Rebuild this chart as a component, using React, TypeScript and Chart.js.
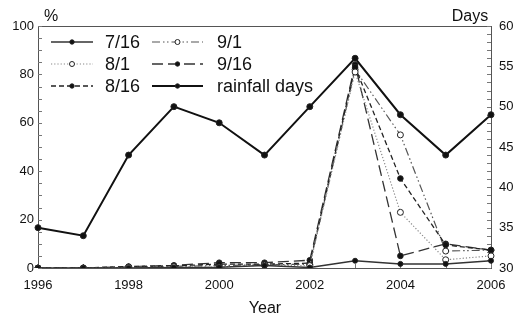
import React, { useEffect, useRef } from 'react';
import { Chart, registerables } from 'chart.js';
Chart.register(...registerables);

const YEARS = ['1996', '1997', '1998', '1999', '2000', '2001', '2002', '2003', '2004', '2005', '2006'];
const P_0716 = [0, 0, 0, 0.2, 0.3, 1.0, 0.2, 3.0, 1.7, 1.7, 3.0];
const P_0801 = [0, 0, 0.2, 0.5, 0.4, 1.2, 1.0, 81, 23, 3.4, 5.0];
const P_0816 = [0, 0, 0.6, 0.9, 1.6, 1.6, 2.0, 83, 37, 9.5, 7.4];
const P_0901 = [0, 0, 0.3, 0.7, 1.0, 1.4, 1.5, 82, 55, 7.0, 7.4];
const P_0916 = [0, 0, 0.5, 1.1, 2.2, 2.2, 3.2, 84, 5.0, 10, 7.4];
const RAINFALL_DAYS = [35, 34, 44, 50, 48, 44, 50, 56, 49, 44, 49];

const LEFT_TICKS = [0, 20, 40, 60, 80, 100];
const RIGHT_TICKS = [30, 35, 40, 45, 50, 55, 60];

const FONT = "'Liberation Sans', Arial, sans-serif";

type Style = { label: string; data: number[]; color: string; width: number; dash: number[]; open: boolean; r: number; axis: string };

const SERIES: Style[] = [
  { label: '7/16', data: P_0716, color: '#333', width: 1.5, dash: [], open: false, r: 2.5, axis: 'y' },
  { label: '8/1', data: P_0801, color: '#888', width: 1.2, dash: [1.2, 2], open: true, r: 3, axis: 'y' },
  { label: '8/16', data: P_0816, color: '#222', width: 1.3, dash: [5, 3], open: false, r: 2.8, axis: 'y' },
  { label: '9/1', data: P_0901, color: '#555', width: 1.2, dash: [8, 3, 1.5, 2.5, 1.5, 3], open: true, r: 3, axis: 'y' },
  { label: '9/16', data: P_0916, color: '#333', width: 1.3, dash: [11, 5], open: false, r: 2.8, axis: 'y' },
  { label: 'rainfall days', data: RAINFALL_DAYS, color: '#111', width: 2, dash: [], open: false, r: 3, axis: 'y1' },
];

const LEGEND_POS = [
  { x1: 51, x2: 93, y: 42, tx: 105 },
  { x1: 51, x2: 93, y: 64, tx: 105 },
  { x1: 51, x2: 93, y: 86, tx: 105 },
  { x1: 152, x2: 203, y: 42, tx: 217 },
  { x1: 152, x2: 203, y: 64, tx: 217 },
  { x1: 152, x2: 203, y: 86, tx: 217 },
];

const decor = {
  id: 'decor',
  beforeDatasetsDraw(chart: any) {
    const { ctx, chartArea: a, scales } = chart;
    ctx.save();
    ctx.strokeStyle = '#555';
    ctx.lineWidth = 1;
    ctx.setLineDash([]);
    ctx.strokeRect(Math.round(a.left) + 0.5, Math.round(a.top) + 0.5, Math.round(a.right - a.left), Math.round(a.bottom - a.top));
    ctx.strokeStyle = '#777';
    ctx.beginPath();
    for (let v = 0; v <= 100; v += 5) {
      const y = Math.round(scales.y.getPixelForValue(v)) + 0.5;
      ctx.moveTo(a.left, y);
      ctx.lineTo(a.left + 4, y);
    }
    for (let v = 30; v <= 60; v += 1) {
      const y = Math.round(scales.y1.getPixelForValue(v)) + 0.5;
      ctx.moveTo(a.right, y);
      ctx.lineTo(a.right - 4, y);
    }
    for (let i = 0; i < YEARS.length; i++) {
      const x = Math.round(scales.x.getPixelForValue(i)) + 0.5;
      ctx.moveTo(x, a.bottom);
      ctx.lineTo(x, a.bottom - 4);
    }
    ctx.stroke();
    ctx.restore();
  },
  afterDraw(chart: any) {
    const { ctx } = chart;
    ctx.save();
    ctx.fillStyle = '#111';
    ctx.font = `16px ${FONT}`;
    ctx.textBaseline = 'middle';
    ctx.textAlign = 'left';
    ctx.fillText('%', 44, 17);
    ctx.textAlign = 'center';
    ctx.fillText('Days', 470, 17);
    ctx.fillText('Year', 265, 309);
    SERIES.forEach((s, i) => {
      const p = LEGEND_POS[i];
      ctx.strokeStyle = s.color;
      ctx.lineWidth = s.width;
      ctx.setLineDash(s.dash);
      ctx.beginPath();
      ctx.moveTo(p.x1, p.y);
      ctx.lineTo(p.x2, p.y);
      ctx.stroke();
      ctx.setLineDash([]);
      const mx = (p.x1 + p.x2) / 2;
      ctx.beginPath();
      ctx.arc(mx, p.y, s.open ? 2.5 : 2.2, 0, Math.PI * 2);
      ctx.fillStyle = s.open ? '#fff' : '#111';
      ctx.fill();
      ctx.lineWidth = 1;
      ctx.strokeStyle = '#222';
      ctx.stroke();
      ctx.fillStyle = '#111';
      ctx.font = `18px ${FONT}`;
      ctx.textAlign = 'left';
      ctx.fillText(s.label, p.tx, p.y + 1);
    });
    ctx.restore();
  },
};

export default function App() {
  const ref = useRef<HTMLCanvasElement>(null);
  useEffect(() => {
    document.body.style.margin = '0';
    const canvas = ref.current!;
    const chart = new Chart(canvas, {
      type: 'line',
      data: {
        labels: YEARS,
        datasets: SERIES.map((s) => ({
          label: s.label,
          data: s.data,
          yAxisID: s.axis,
          borderColor: s.color,
          borderWidth: s.width,
          borderDash: s.dash,
          tension: 0,
          fill: false,
          pointRadius: s.r,
          pointBorderWidth: 1,
          pointBorderColor: '#222',
          pointBackgroundColor: s.open ? '#fff' : '#111',
        })),
      },
      options: {
        animation: false,
        responsive: false,
        layout: { padding: { top: 26, left: 0, right: 0, bottom: 0 } },
        plugins: { legend: { display: false }, tooltip: { enabled: false } },
        scales: {
          x: {
            type: 'category',
            offset: false,
            grid: { display: false, drawTicks: false },
            border: { display: false },
            ticks: {
              autoSkip: false,
              maxRotation: 0,
              padding: 10,
              color: '#111',
              font: { family: FONT, size: 13 },
              callback: (_v: any, i: number) => (i % 2 === 0 ? YEARS[i] : ''),
            },
            afterFit: (s: any) => { s.height = 50; },
          },
          y: {
            position: 'left',
            min: 0,
            max: 100,
            grid: { display: false, drawTicks: false },
            border: { display: false },
            afterBuildTicks: (s: any) => { s.ticks = LEFT_TICKS.map((v) => ({ value: v })); },
            ticks: { padding: 4, color: '#111', font: { family: FONT, size: 13 } },
            afterFit: (s: any) => { s.width = 38; },
          },
          y1: {
            position: 'right',
            min: 30,
            max: 60,
            grid: { display: false, drawTicks: false },
            border: { display: false },
            afterBuildTicks: (s: any) => { s.ticks = RIGHT_TICKS.map((v) => ({ value: v })); },
            ticks: { padding: 8, color: '#111', font: { family: FONT, size: 13 } },
            afterFit: (s: any) => { s.width = 28; },
          },
        },
      },
      plugins: [decor],
    });
    return () => chart.destroy();
  }, []);
  return (
    <div style={{ width: 519, height: 318 }}>
      <canvas ref={ref} width={519} height={318} style={{ display: 'block' }} />
    </div>
  );
}
